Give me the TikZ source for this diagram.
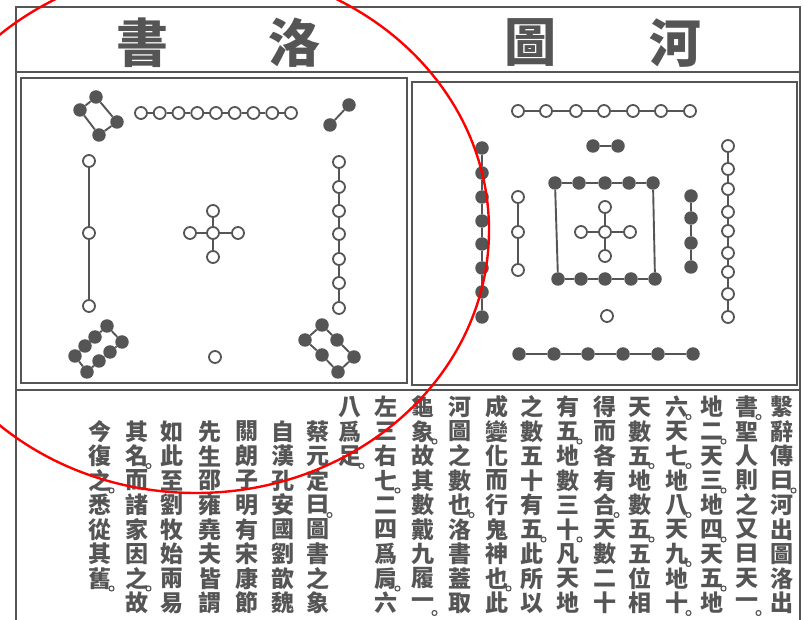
\documentclass[tikz,border=0pt]{standalone}
\usepackage{fontspec}
\newfontfamily\cjk{Noto Sans CJK TC}
\definecolor{ink}{RGB}{85,85,85}
\tikzset{
  wdot/.style={circle,draw=ink,line width=1.8pt,fill=white,minimum size=12pt,inner sep=0pt},
  bdot/.style={circle,fill=ink,minimum size=13.5pt,inner sep=0pt},
  link/.style={draw=ink,line width=1.9pt},
  frame/.style={draw=ink,line width=2pt},
  ttl/.style={font=\cjk\bfseries\fontsize{52}{52}\selectfont,text=ink,inner sep=0pt},
  chr/.style={font=\cjk\bfseries\fontsize{23}{23}\selectfont,text=ink,inner sep=0pt},
  punct/.style={circle,draw=ink,line width=1.1pt,minimum size=5pt,inner sep=0pt},
  redmark/.style={draw=red,line width=2.4pt},
}
\newcommand{\placeW}[2]{\foreach \px/\py [count=\i] in {#2} {\node[wdot] (#1\i) at (\px,\py) {};}}
\newcommand{\placeB}[2]{\foreach \px/\py [count=\i] in {#2} {\node[bdot] (#1\i) at (\px,\py) {};}}
\newcommand{\linkchain}[2]{\foreach \i in {2,...,#2} {\pgfmathtruncatemacro\k{\i-1}\draw[link] (#1\k) -- (#1\i);}}
\newcommand{\tcol}[4]{\foreach \c [count=\r] in {#4} {\node[chr] (c#1-\r) at (#2,{407+(\r-1+#3)*24.5}) {\c};}}
\newcommand{\pu}[2]{\node[punct] at ([shift={(11.5,10)}]c#1-#2.center) {};}
\begin{document}
\begin{tikzpicture}[x=1pt,y=-1pt]
\useasboundingbox (0,0) rectangle (804,620);
\fill[white] (0,0) rectangle (804,620);
% frames
\draw[frame] (16,625) -- (16,7) -- (800,7) -- (800,625);
\draw[frame] (16,72) -- (800,72);
\draw[frame] (21,78) rectangle (407,383);
\draw[frame] (412,82) rectangle (797,385);
\draw[frame] (16,390) -- (800,390);
% titles
\node[ttl] (t1) at (142,43) {書};
\node[ttl] (t2) at (294,43) {洛};
\node[ttl] (t3) at (530,43) {圖};
\node[ttl] (t4) at (675,43) {河};
% ---------------- Luo Shu ----------------
\placeB{lsa}{80/110, 96/97, 117/122, 99/135}
\linkchain{lsa}{4}\draw[link] (lsa4) -- (lsa1);
\placeW{lsb}{141/113, 159.75/113, 178.5/113, 197.25/113, 216/113, 234.75/113, 253.5/113, 272.25/113, 291/113}
\linkchain{lsb}{9}
\placeB{lsc}{349/105, 330/125}
\linkchain{lsc}{2}
\placeW{lsd}{89/161, 89/233, 89/306}
\linkchain{lsd}{3}
\placeW{lse}{339/162, 339/187, 339/211, 339/234, 339/259, 339/283, 339/308}
\linkchain{lse}{7}
\placeW{lsf}{213/233, 213/211, 190/233, 238/233, 213/257}
\foreach \i in {2,...,5} {\draw[link] (lsf1) -- (lsf\i);}
\placeW{lsg}{215/357}
\placeB{lsh}{107/326, 95/337, 85/346, 75/356, 87/372, 99/361, 110/352, 122/342}
\linkchain{lsh}{8}\draw[link] (lsh8) -- (lsh1);
\placeB{lsi}{322/325, 305/340, 322/355, 338/372, 354/357, 337/340}
\linkchain{lsi}{6}\draw[link] (lsi6) -- (lsi1);
% ---------------- He Tu ----------------
\placeW{hta}{518/111, 546/111, 576/111, 604/111, 633/111, 661/111, 690/111}
\linkchain{hta}{7}
\placeB{htb}{593/146, 618/146}
\linkchain{htb}{2}
\placeB{htc}{555/183, 579/183, 605/183, 629/183, 653/183}
\linkchain{htc}{5}
\placeB{htd}{558/279, 581/279, 605/279, 631/279, 655/279}
\linkchain{htd}{5}
\draw[link] (htc1) -- (htd1);
\draw[link] (htc5) -- (htd5);
\placeW{hte}{605/232, 605/207, 605/256, 581/232, 630/232}
\foreach \i in {2,...,5} {\draw[link] (hte1) -- (hte\i);}
\placeW{htf}{518/197, 518/232, 518/270}
\linkchain{htf}{3}
\placeB{htg}{691/196, 691/218, 691/243, 691/267}
\linkchain{htg}{4}
\placeB{hth}{482/148, 482/173, 482/197, 482/221, 482/244, 482/268, 482/292, 482/317}
\linkchain{hth}{8}
\placeW{hti}{728/146, 728/169, 728/189, 728/212, 728/231, 728/253, 728/272, 728/294, 728/317}
\linkchain{hti}{9}
\placeW{htj}{607/316}
\placeB{htk}{519/354, 554/354, 588/354, 623/354, 658/354, 693/354}
\linkchain{htk}{6}
% ---------------- text ----------------
\tcol{1}{782}{0}{繫,辭,傳,曰,河,出,圖,洛,出}
\tcol{2}{747}{0}{書,聖,人,則,之,又,曰,天,一}
\tcol{3}{712}{0}{地,二,天,三,地,四,天,五,地}
\tcol{4}{677}{0}{六,天,七,地,八,天,九,地,十}
\tcol{5}{640}{0}{天,數,五,地,數,五,五,位,相}
\tcol{6}{605}{0}{得,而,各,有,合,天,數,二,十}
\tcol{7}{568}{0}{有,五,地,數,三,十,凡,天,地}
\tcol{8}{532}{0}{之,數,五,十,有,五,此,所,以}
\tcol{9}{497}{0}{成,變,化,而,行,鬼,神,也,此}
\tcol{10}{460}{0}{河,圖,之,數,也,洛,書,蓋,取}
\tcol{11}{423}{0}{龜,象,故,其,數,戴,九,履,一}
\tcol{12}{386}{0}{左,三,右,七,二,四,爲,肩,六}
\tcol{13}{350}{0}{八,爲,足}
\tcol{14}{318}{1}{蔡,元,定,曰,圖,書,之,象}
\tcol{15}{283}{1}{自,漢,孔,安,國,劉,歆,魏}
\tcol{16}{247}{1}{關,朗,子,明,有,宋,康,節}
\tcol{17}{210}{1}{先,生,邵,雍,堯,夫,皆,謂}
\tcol{18}{172}{1}{如,此,至,劉,牧,始,兩,易}
\tcol{19}{137}{1}{其,名,而,諸,家,因,之,故}
\tcol{20}{100}{1}{今,復,之,悉,從,其,舊}
\pu{1}{4}
\pu{2}{1}\pu{2}{9}
\pu{3}{2}\pu{3}{4}\pu{3}{6}\pu{3}{8}
\pu{4}{1}\pu{4}{3}\pu{4}{5}\pu{4}{7}\pu{4}{9}
\pu{5}{3}\pu{5}{6}
\pu{6}{5}
\pu{7}{2}\pu{7}{6}
\pu{8}{6}
\pu{9}{8}
\pu{10}{5}
\pu{11}{2}\pu{11}{9}
\pu{12}{4}\pu{12}{8}
\pu{13}{3}
\pu{14}{4}
\pu{19}{2}\pu{19}{7}
\pu{20}{3}\pu{20}{7}
% red mark
\draw[redmark] (196,230) ellipse [x radius=293, y radius=263];
\end{tikzpicture}
\end{document}
